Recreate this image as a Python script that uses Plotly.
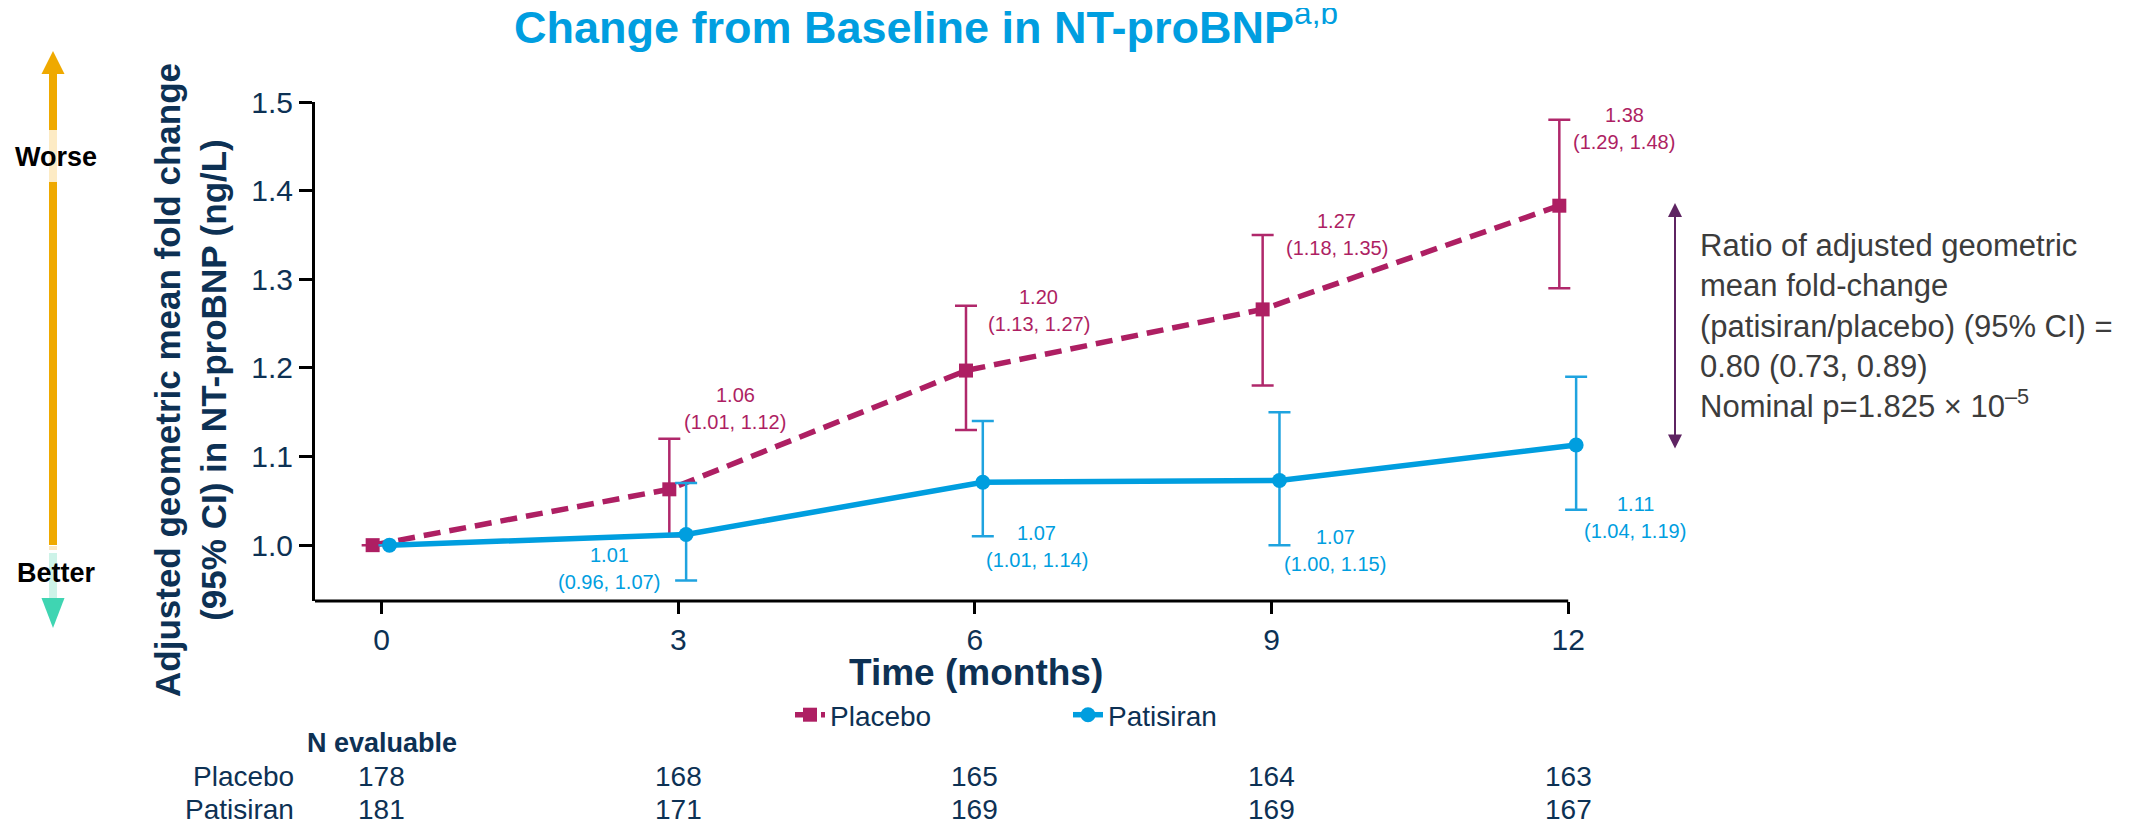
import plotly.graph_objects as go

# ---------------- data ----------------
months = [0, 3, 6, 9, 12]
placebo_mean = [1.000, 1.063, 1.197, 1.266, 1.383]
placebo_lo = [None, 1.01, 1.13, 1.18, 1.29]
placebo_hi = [None, 1.12, 1.27, 1.35, 1.48]
patisiran_mean = [1.000, 1.012, 1.071, 1.073, 1.113]
patisiran_lo = [None, 0.96, 1.01, 1.00, 1.04]
patisiran_hi = [None, 1.07, 1.14, 1.15, 1.19]
n_placebo = [178, 168, 165, 164, 163]
n_patisiran = [181, 171, 169, 169, 167]
x_ticks = [0, 3, 6, 9, 12]
y_ticks = [1.0, 1.1, 1.2, 1.3, 1.4, 1.5]
series_names = ["Placebo", "Patisiran"]

title_text = "Change from Baseline in NT-proBNP"
title_sup = "a,b"
y_title = "Adjusted geometric mean fold change<br>(95% CI) in NT-proBNP (ng/L)"
x_title = "Time (months)"
ratio_text = ("Ratio of adjusted geometric<br>mean fold-change<br>"
              "(patisiran/placebo) (95% CI) =<br>0.80 (0.73, 0.89)<br>"
              "Nominal p=1.825 × 10<sup>–5</sup>")

# ---------------- style / layout (page pixel coords) ----------------
OFF = 8                      # browser body margin
FW, FH = 2138 - OFF, 823 - OFF
PLOT_L, PLOT_R, PLOT_T, PLOT_B = 315, 1588, 102, 601
ML, MT = PLOT_L - OFF, PLOT_T - OFF
MR, MB = FW - (PLOT_R - OFF), FH - (PLOT_B - OFF)
PW, PH = PLOT_R - PLOT_L, PLOT_B - PLOT_T
X_RANGE = [-0.673, 12.2]
Y_RANGE = [0.937, 1.5]

FONT = "Liberation Sans, Arial, sans-serif"
NAVY = "#0D3154"
MAGENTA = "#AE1F63"
MAGENTA_EB = "#B0286B"
BLUE = "#009EDF"
BLUE_EB = "#1FA3DF"
TITLE_BLUE = "#009EE0"
ORANGE = "#EFA900"
TEAL = "#3FD5B2"
PURPLE = "#5E2462"
GRAY = "#3C3C3C"

PLACEBO_DX = -0.09
PATISIRAN_DX = 0.08
PLACEBO_LABEL_OFF = [None, (66, -81), (73, -60), (74, -75), (65, -77)]
PATISIRAN_LABEL_OFF = [None, (-77, 34), (54, 64), (56, 70), (59, 72)]


def px(x):
    return (x - PLOT_L) / PW


def py(y):
    return (PLOT_B - y) / PH


def err(mean, lo, hi):
    plus = [None if h is None else h - m for m, h in zip(mean, hi)]
    minus = [None if l is None else m - l for m, l in zip(mean, lo)]
    return plus, minus


fig = go.Figure()

p_plus, p_minus = err(placebo_mean, placebo_lo, placebo_hi)
fig.add_trace(go.Scatter(
    x=[m + PLACEBO_DX for m in months], y=placebo_mean, name=series_names[0],
    mode="lines+markers", cliponaxis=False,
    line=dict(color=MAGENTA, width=5.5, dash="17px,9px"),
    marker=dict(symbol="square", size=14, color=MAGENTA),
    error_y=dict(type="data", symmetric=False, array=p_plus, arrayminus=p_minus,
                 color=MAGENTA_EB, thickness=2.5, width=11),
))

b_plus, b_minus = err(patisiran_mean, patisiran_lo, patisiran_hi)
fig.add_trace(go.Scatter(
    x=[m + PATISIRAN_DX for m in months], y=patisiran_mean, name=series_names[1],
    mode="lines+markers", cliponaxis=False,
    line=dict(color=BLUE, width=5.5),
    marker=dict(symbol="circle", size=15, color=BLUE),
    error_y=dict(type="data", symmetric=False, array=b_plus, arrayminus=b_minus,
                 color=BLUE_EB, thickness=2.5, width=11),
))

ann = []


def add_labels(mean, lo, hi, dx_off, offs, color):
    for m, v, l, h, off in zip(months, mean, lo, hi, offs):
        if off is None:
            continue
        dx, dy = off
        for txt, dline in ((f"{v:.2f}", -13.5), (f"({l:.2f}, {h:.2f})", 13.5)):
            ann.append(dict(x=m + dx_off, y=v, xref="x", yref="y", text=txt,
                            showarrow=False, xanchor="center", yanchor="middle",
                            xshift=dx, yshift=-(dy + dline),
                            font=dict(family=FONT, size=20, color=color)))


add_labels(placebo_mean, placebo_lo, placebo_hi, PLACEBO_DX, PLACEBO_LABEL_OFF, MAGENTA)
add_labels(patisiran_mean, patisiran_lo, patisiran_hi, PATISIRAN_DX, PATISIRAN_LABEL_OFF, BLUE)

# y axis title
ann.append(dict(x=px(190), y=py(380), xref="paper", yref="paper", text=f"<b>{y_title}</b>",
                textangle=-90, showarrow=False, xanchor="center", yanchor="middle",
                font=dict(family=FONT, size=35, color=NAVY)))
# x axis title
ann.append(dict(x=px(976), y=py(672), xref="paper", yref="paper", text=f"<b>{x_title}</b>",
                showarrow=False, xanchor="center", yanchor="middle",
                font=dict(family=FONT, size=37, color=NAVY)))

# N evaluable table
ann.append(dict(x=px(382), y=py(743), xref="paper", yref="paper", text="<b>N evaluable</b>",
                showarrow=False, xanchor="center", yanchor="middle",
                font=dict(family=FONT, size=27, color=NAVY)))
for name, ns, yy in ((series_names[0], n_placebo, 776), (series_names[1], n_patisiran, 809)):
    ann.append(dict(x=px(296), y=py(yy), xref="paper", yref="paper", text=name,
                    showarrow=False, xanchor="right", yanchor="middle",
                    font=dict(family=FONT, size=28, color=NAVY)))
    for m, n in zip(months, ns):
        ann.append(dict(x=m, y=py(yy), xref="x", yref="paper", text=str(n),
                        showarrow=False, xanchor="center", yanchor="middle",
                        font=dict(family=FONT, size=28, color=NAVY)))

# ratio annotation: arrow + text
ann.append(dict(x=px(1675), y=py(203), xref="paper", yref="paper", ax=0, ay=247,
                axref="pixel", ayref="pixel", showarrow=True, arrowhead=2, startarrowhead=2,
                arrowside="end+start", arrowsize=1.4, startarrowsize=1.4, arrowwidth=2,
                arrowcolor=PURPLE, text=""))
ann.append(dict(x=px(1698), y=py(326), xref="paper", yref="paper", text=ratio_text,
                showarrow=False, xanchor="left", yanchor="middle", align="left",
                font=dict(family=FONT, size=31, color=GRAY)))

# Worse / Better labels
ann.append(dict(x=px(56), y=py(157), xref="paper", yref="paper", text="<b>Worse</b>",
                showarrow=False, xanchor="center", yanchor="middle",
                font=dict(family=FONT, size=27, color="#000000")))
ann.append(dict(x=px(56), y=py(573), xref="paper", yref="paper", text="<b>Better</b>",
                showarrow=False, xanchor="center", yanchor="middle",
                font=dict(family=FONT, size=27, color="#000000")))

shapes = []
AX = px(53)


def vline(y0, y1, color, w=8):
    shapes.append(dict(type="line", xref="paper", yref="paper", x0=AX, x1=AX,
                       y0=py(y0), y1=py(y1), line=dict(color=color, width=w)))


vline(72, 545, ORANGE)
vline(130, 182, "#FDEBC4")
vline(546, 550, "#FBE7BF")
vline(553, 599, "#CDF3E8")


def tri(tip, base, color):
    path = (f"M {px(53)} {py(tip)} L {px(41.5)} {py(base)} "
            f"L {px(64.5)} {py(base)} Z")
    shapes.append(dict(type="path", xref="paper", yref="paper", path=path,
                       fillcolor=color, line=dict(width=0)))


tri(51, 74, ORANGE)
tri(628, 598, TEAL)

# x-axis line (ends at last tick)
shapes.append(dict(type="line", xref="x", yref="y domain", x0=X_RANGE[0], x1=x_ticks[-1],
                   y0=0, y1=0, line=dict(color="black", width=3)))

fig.update_layout(
    width=FW, height=FH,
    margin=dict(l=ML, r=MR, t=MT, b=MB),
    paper_bgcolor="white", plot_bgcolor="white",
    title=dict(text=f"<b>{title_text}</b><sup>{title_sup}</sup>",
               x=(514 - OFF) / FW, xanchor="left", xref="container",
               y=1 - (27 - OFF) / FH, yanchor="middle", yref="container",
               font=dict(family=FONT, size=45, color=TITLE_BLUE)),
    xaxis=dict(range=X_RANGE, tickvals=x_ticks, showgrid=False, zeroline=False,
               showline=False, ticks="outside", ticklen=12, tickwidth=3, tickcolor="black",
               tickfont=dict(family=FONT, size=30, color=NAVY)),
    yaxis=dict(range=Y_RANGE, tickvals=y_ticks, tickformat=".1f", showgrid=False,
               zeroline=False, showline=True, linewidth=3, linecolor="black",
               ticks="outside", ticklen=13, tickwidth=3, tickcolor="black",
               tickfont=dict(family=FONT, size=30, color=NAVY)),
    legend=dict(orientation="h", x=px(790), xanchor="left", y=py(715), yanchor="middle",
                font=dict(family=FONT, size=28, color=NAVY), bgcolor="rgba(0,0,0,0)",
                entrywidth=233, entrywidthmode="pixels"),
    annotations=ann,
    shapes=shapes,
    showlegend=True,
)

fig.write_html("out.html")
